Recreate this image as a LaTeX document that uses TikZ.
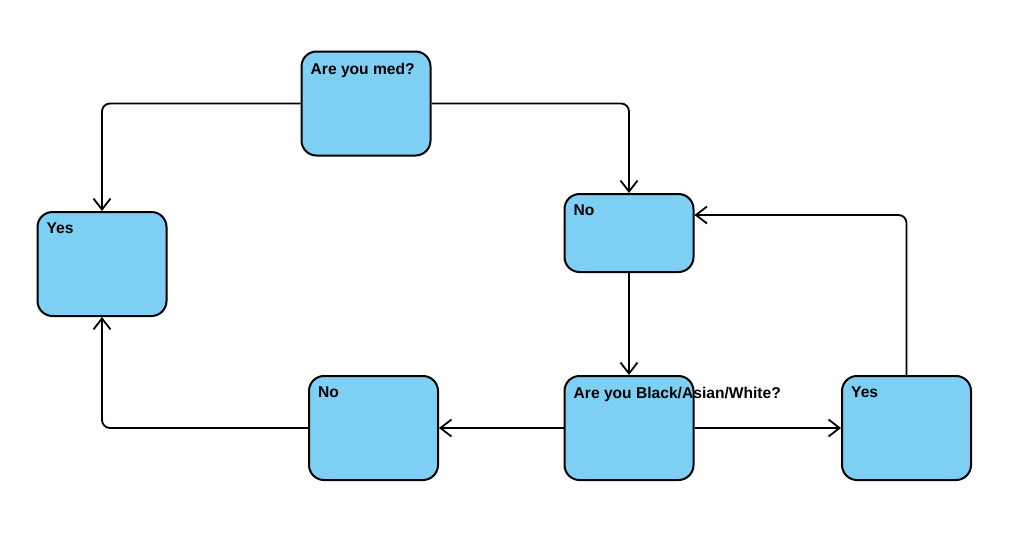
\documentclass[tikz,border=0pt]{standalone}
\usepackage{fontspec}
\setmainfont{Liberation Sans}
\usetikzlibrary{arrows.meta}
\definecolor{boxblue}{RGB}{125,208,243}

\begin{document}
\begin{tikzpicture}[x=1pt, y=-1pt,
block/.style = {draw, fill=boxblue, rectangle, rounded corners=15pt, line width=2pt, minimum width=129pt, minimum height=104pt},
short/.style = {minimum height=78pt},
caption/.style = {anchor=north west, font=\fontsize{15.6}{18}\selectfont\bfseries, inner sep=0pt},
line/.style = {draw, line width=1.8pt, rounded corners=8pt},
>={Straight Barb[length=11pt, width=17pt, line width=1.8pt]}
]
    \useasboundingbox (0,0) rectangle (1024,544);

    \node [block] (med) at (366,103.5) {};
    \node [block] (yesL) at (102,264) {};
    \node [block, short] (noT) at (629,233) {};
    \node [block] (ask) at (629,428) {};
    \node [block] (noL) at (373.5,428) {};
    \node [block] (yesR) at (906.5,428) {};

    % captions sit in the top left corner of each box
    \node [caption] (medtext) at ([shift={(10pt,-12pt)}]med.north west) {Are you med?};
    \node [caption] (yesLtext) at ([shift={(10pt,-12pt)}]yesL.north west) {Yes};
    \node [caption] (noTtext) at ([shift={(10pt,-12pt)}]noT.north west) {No};
    \node [caption] (asktext) at ([shift={(10pt,-12pt)}]ask.north west) {Are you Black/Asian/White?};
    \node [caption] (noLtext) at ([shift={(10pt,-12pt)}]noL.north west) {No};
    \node [caption] (yesRtext) at ([shift={(10pt,-12pt)}]yesR.north west) {Yes};

    \draw [line, ->] (med.west) -| (yesL.north);
    \draw [line, ->] (med.east) -| (noT.north);
    \draw [line, ->] (noT.south) -- (ask.north);
    \draw [line, ->] (ask.west) -- (noL.east);
    \draw [line, ->] (ask.east) -- (yesR.west);
    \draw [line, ->] (yesR.north) |- ([yshift=18pt]noT.east);
    \draw [line, ->] (noL.west) -| (yesL.south);

\end{tikzpicture}
\end{document}
